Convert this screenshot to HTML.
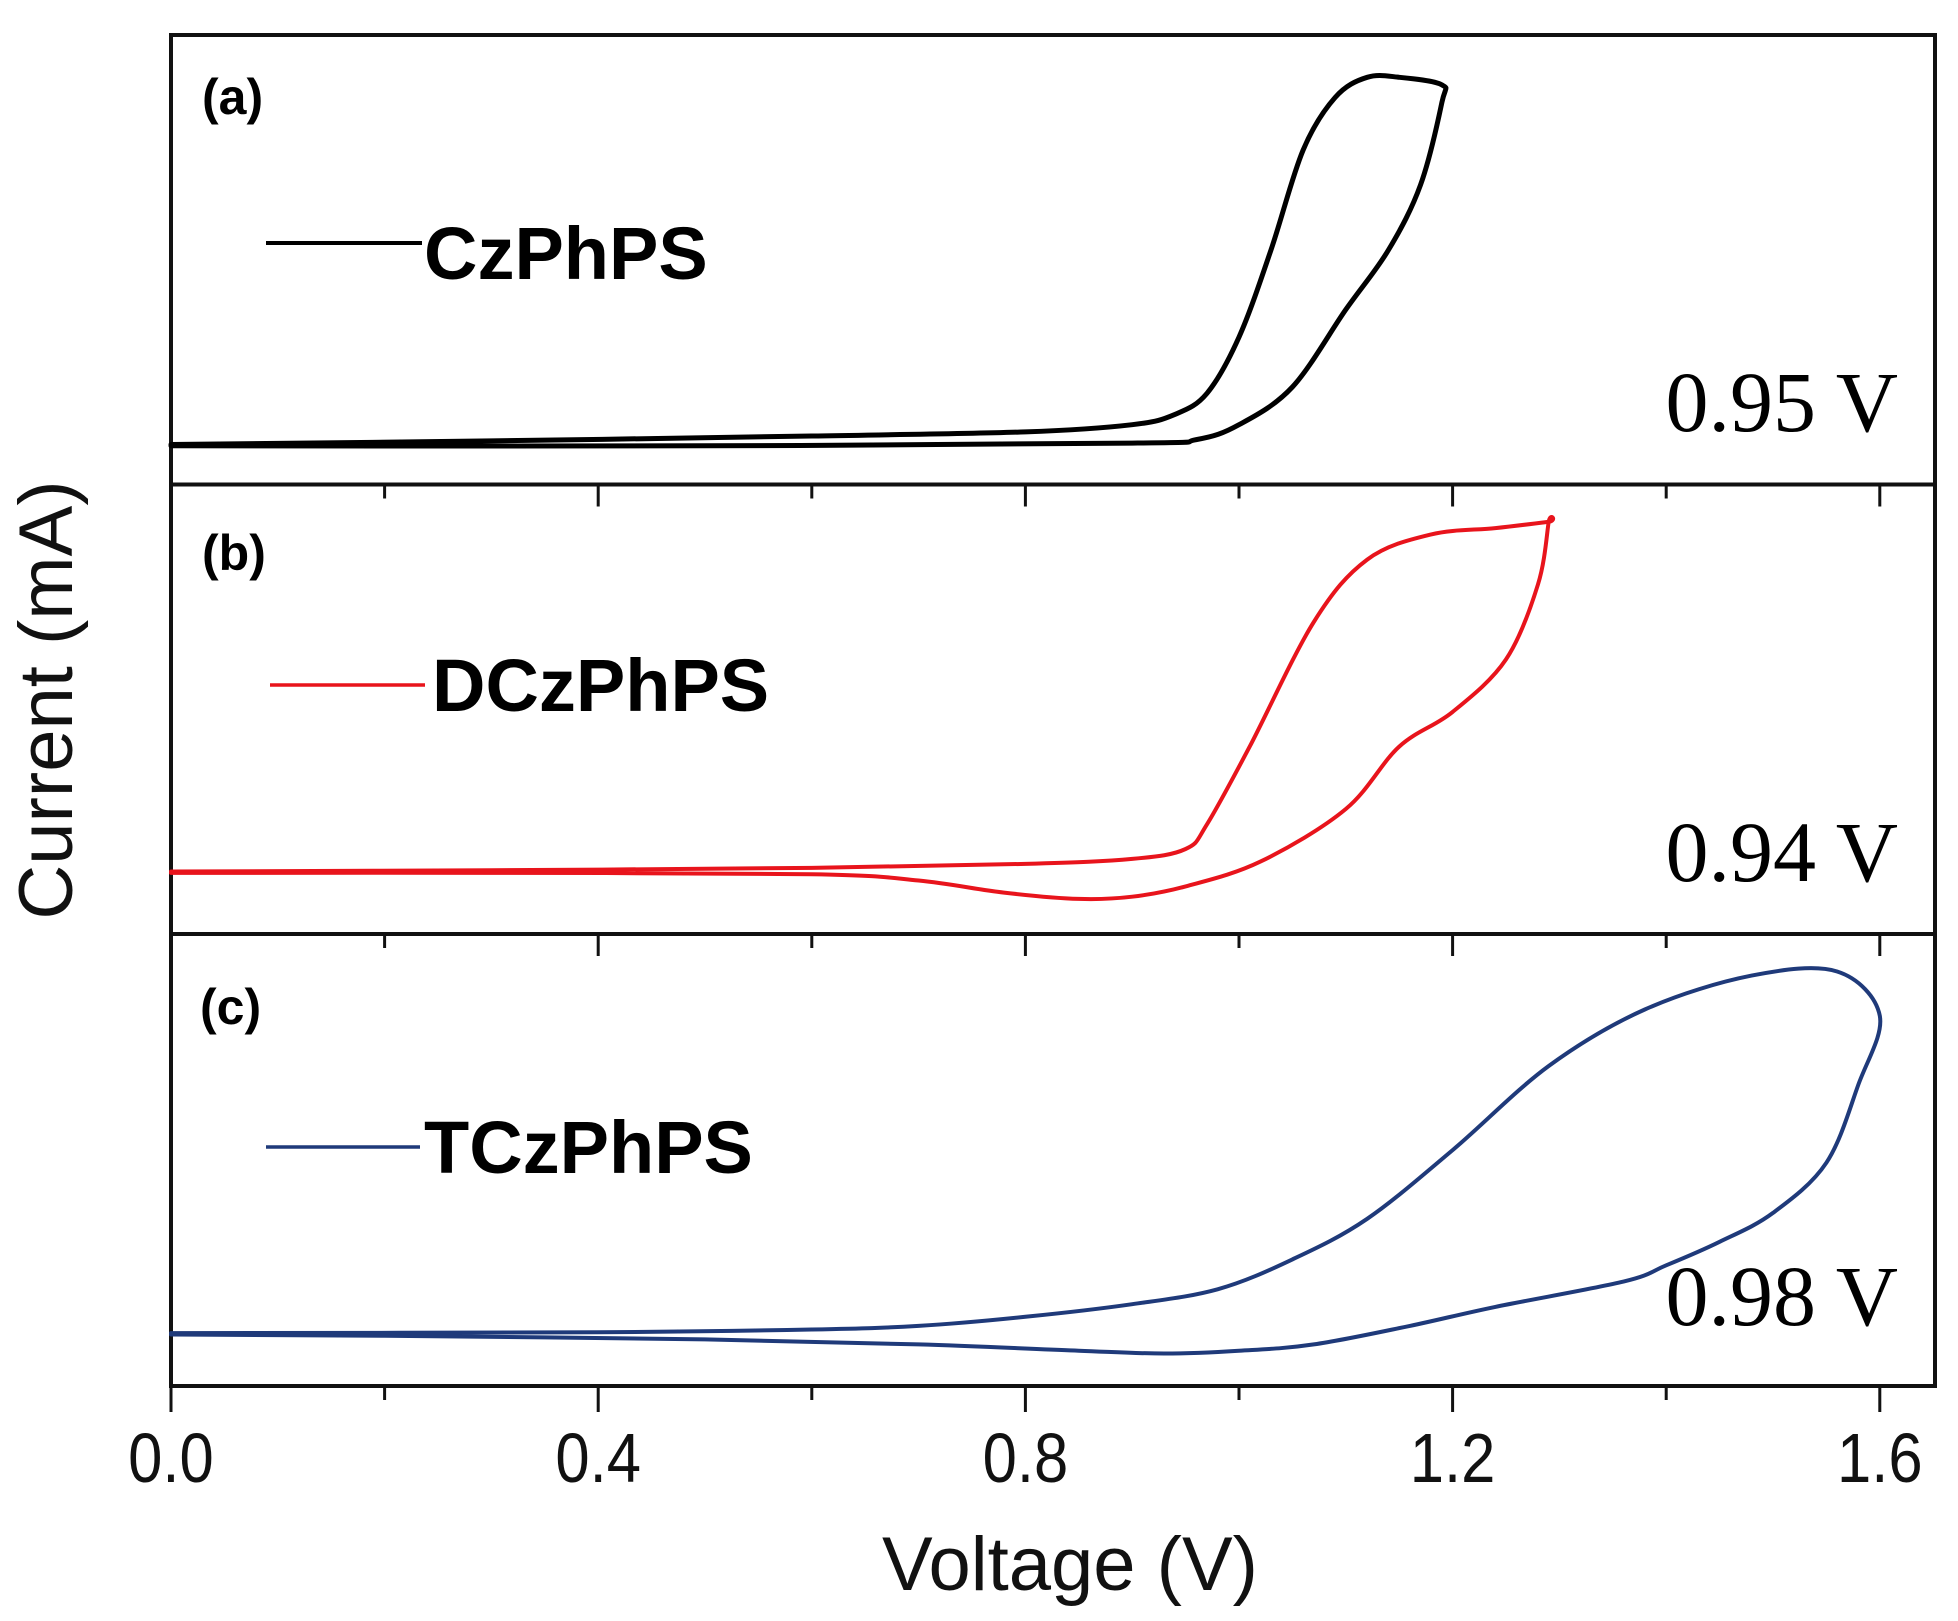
<!DOCTYPE html>
<html><head><meta charset="utf-8"><style>
html,body{margin:0;padding:0;background:#fff}
svg{display:block}
</style></head><body>
<svg id="chart" width="1958" height="1621" viewBox="0 0 1958 1621" xmlns="http://www.w3.org/2000/svg">
<g id="frame"></g>
<g id="curves"></g>
<g id="ticks"></g>
<text transform="translate(72,700) rotate(-90)" text-anchor="middle" font-family="Liberation Sans, sans-serif" font-size="76" fill="#111">Current (mA)</text>
<text x="1070" y="1590" text-anchor="middle" font-family="Liberation Sans, sans-serif" font-size="76" fill="#111">Voltage (V)</text>
<text x="202" y="114" font-family="Liberation Sans, sans-serif" font-weight="bold" font-size="50">(a)</text>
<text x="202" y="570" font-family="Liberation Sans, sans-serif" font-weight="bold" font-size="50">(b)</text>
<text x="200" y="1024" font-family="Liberation Sans, sans-serif" font-weight="bold" font-size="50">(c)</text>
<line x1="266" y1="243" x2="422" y2="243" stroke="#000" stroke-width="4"/>
<text x="424" y="279" font-family="Liberation Sans, sans-serif" font-weight="bold" font-size="74">CzPhPS</text>
<line x1="270" y1="685" x2="425" y2="685" stroke="#e8141c" stroke-width="3.5"/>
<text x="432" y="711" font-family="Liberation Sans, sans-serif" font-weight="bold" font-size="74">DCzPhPS</text>
<line x1="266" y1="1147" x2="420" y2="1147" stroke="#1f3a7a" stroke-width="3.5"/>
<text x="424" y="1173" font-family="Liberation Sans, sans-serif" font-weight="bold" font-size="74">TCzPhPS</text>
<text x="1898" y="431" text-anchor="end" font-family="Liberation Serif, serif" font-size="86">0.95 V</text>
<text x="1898" y="881" text-anchor="end" font-family="Liberation Serif, serif" font-size="86">0.94 V</text>
<text x="1898" y="1325" text-anchor="end" font-family="Liberation Serif, serif" font-size="86">0.98 V</text>
</svg>
<script>
// data (voltage V, current in arbitrary panel units 0..100)
const aV = [0,0.3,0.6,0.8,0.9,0.94,0.97,1.0,1.03,1.06,1.09,1.12,1.15,1.19,1.19,1.17,1.14,1.1,1.05,1.0,0.96,0.9,0.5,0];
const aI = [8.9,9.7,10.8,11.7,13.3,15.6,20.3,32.8,52.2,74.4,86.1,90.6,90.6,88.9,85,66.7,52.2,38.9,21.7,13.3,10,9.2,8.6,8.6];
const bV = [0,0.3,0.6,0.8,0.9,0.95,0.97,1.01,1.07,1.12,1.18,1.24,1.29,1.29,1.28,1.25,1.2,1.15,1.1,1.02,0.95,0.9,0.85,0.78,0.7,0.6,0.3,0];
const bI = [13.9,14.2,14.7,15.6,16.7,18.9,24.4,41.7,69.4,83.3,88.9,90.3,91.7,91.7,77.8,61.1,49.4,41.7,27.8,16.1,10.6,8.3,7.8,9.2,11.9,13.3,13.6,13.6];
const cV = [0,0.4,0.6,0.7,0.8,0.9,0.98,1.05,1.12,1.2,1.29,1.38,1.48,1.56,1.6,1.58,1.55,1.5,1.45,1.4,1.36,1.24,1.16,1.07,1.0,0.93,0.85,0.7,0.5,0.2,0];
const cI = [11.7,11.9,12.5,13.3,15.3,18.1,21.4,28,37,52.2,70.8,83.3,90.8,91.7,81.9,66.7,49.4,38.3,31.9,26.7,23.1,17.5,13.3,9.2,7.8,7.2,7.8,9.2,10.3,11.1,11.4];
const xTickVals = [0,0.2,0.4,0.6,0.8,1.0,1.2,1.4,1.6];
const xTickLabels = ["0.0","","0.4","","0.8","","1.2","","1.6"];

const NS="http://www.w3.org/2000/svg";
const L=171,R=1935,panels=[[35,484.5],[484.5,934],[934,1386]];
const xs=v=>L+v*1068;
function ys(p,i){const [t,b]=panels[p];return b-(i/100)*(b-t);}
function mk(tag,attrs,parent){const e=document.createElementNS(NS,tag);for(const k in attrs)e.setAttribute(k,attrs[k]);parent.appendChild(e);return e;}
const frame=document.getElementById('frame'),curves=document.getElementById('curves'),ticks=document.getElementById('ticks');
const fr=mk('rect',{x:L,y:35,width:R-L,height:1386-35,fill:'none',stroke:'#111','stroke-width':4},frame);


[484.5,934].forEach((y,k)=>{
  const ln=mk('line',{x1:L,y1:y,x2:R,y2:y,stroke:'#111','stroke-width':4},frame);
  
  
  xTickVals.forEach((v,i)=>{
    const t=mk('line',{x1:xs(v),y1:y,x2:xs(v),y2:y+(i%2?14:22),stroke:'#111','stroke-width':3},frame);
    
    
  });
});
xTickVals.forEach((v,i)=>{
  const t=mk('line',{x1:xs(v),y1:1386,x2:xs(v),y2:1386+(i%2?14:26),stroke:'#111','stroke-width':3},ticks);
  
  
  if(xTickLabels[i]){
    const tx=mk('text',{x:xs(v),y:1482,'text-anchor':'middle','font-family':'Liberation Sans, sans-serif','font-size':70,fill:'#111',transform:`translate(${xs(v)},0) scale(0.88,1) translate(${-xs(v)},0)`},ticks);
    tx.textContent=xTickLabels[i];
    
    
  }
});
function drawCurve(p,V,I,color,w,name){
  const P=V.map((v,i)=>[xs(v),ys(p,I[i])]);
  let d='M'+P[0][0].toFixed(1)+','+P[0][1].toFixed(1);
  for(let i=0;i<P.length-1;i++){
    const p0=P[Math.max(0,i-1)],p1=P[i],p2=P[i+1],p3=P[Math.min(P.length-1,i+2)];
    const c1=[p1[0]+(p2[0]-p0[0])/6,p1[1]+(p2[1]-p0[1])/6];
    const c2=[p2[0]-(p3[0]-p1[0])/6,p2[1]-(p3[1]-p1[1])/6];
    d+=`C${c1[0].toFixed(1)},${c1[1].toFixed(1)} ${c2[0].toFixed(1)},${c2[1].toFixed(1)} ${p2[0].toFixed(1)},${p2[1].toFixed(1)}`;
  }
  const path=mk('path',{d:d,fill:'none',stroke:color,'stroke-width':w,'stroke-linejoin':'round','stroke-linecap':'round'},curves);
  
  
}
drawCurve(0,aV,aI,'#000',5,'czphps-curve');
drawCurve(1,bV,bI,'#e8141c',4,'dczphps-curve');
drawCurve(2,cV,cI,'#1f3a7a',4,'tczphps-curve');
</script>
</body></html>
